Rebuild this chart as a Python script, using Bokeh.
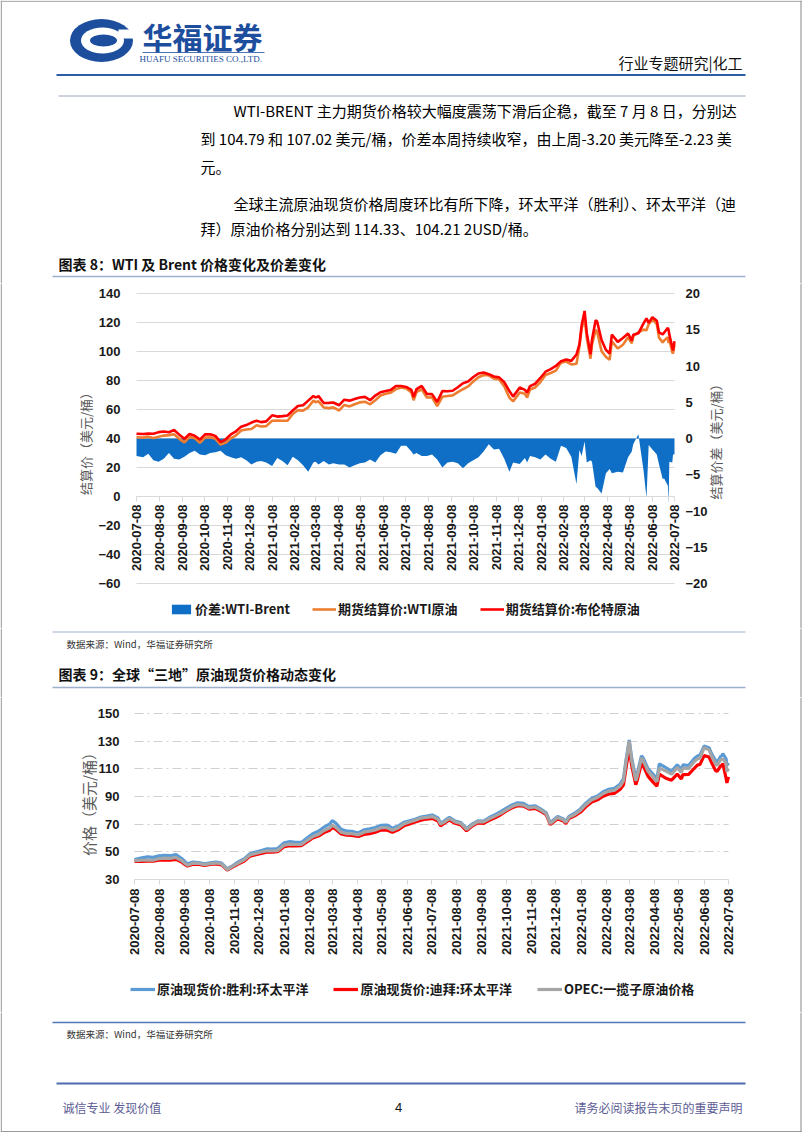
import math
import pandas as pd
from bokeh.plotting import figure
from bokeh.models import (Range1d, LinearAxis, FixedTicker, DatetimeTickFormatter, Grid,
                          Legend, LegendItem, Label, Span, ColumnDataSource)
from bokeh.layouts import column
from bokeh.core.properties import value
from bokeh.embed import file_html
from bokeh.resources import INLINE

# ---------------- data ----------------
DATES = [
    "2020-07-08", "2020-07-17", "2020-07-24", "2020-07-31", "2020-08-07", "2020-08-14", "2020-08-21", "2020-08-28", "2020-09-04", "2020-09-11",
    "2020-09-18", "2020-09-25", "2020-10-02", "2020-10-09", "2020-10-16", "2020-10-23", "2020-10-30", "2020-11-06", "2020-11-13", "2020-11-20",
    "2020-11-27", "2020-12-04", "2020-12-11", "2020-12-18", "2020-12-24", "2020-12-31", "2021-01-08", "2021-01-15", "2021-01-22", "2021-01-29",
    "2021-02-05", "2021-02-12", "2021-02-19", "2021-02-26", "2021-03-05", "2021-03-08", "2021-03-12", "2021-03-19", "2021-03-26", "2021-04-01",
    "2021-04-09", "2021-04-16", "2021-04-23", "2021-04-30", "2021-05-07", "2021-05-14", "2021-05-21", "2021-05-28", "2021-06-04", "2021-06-11",
    "2021-06-18", "2021-06-25", "2021-07-02", "2021-07-09", "2021-07-16", "2021-07-19", "2021-07-23", "2021-07-30", "2021-08-06", "2021-08-13",
    "2021-08-20", "2021-08-27", "2021-09-03", "2021-09-10", "2021-09-17", "2021-09-24", "2021-10-01", "2021-10-08", "2021-10-15", "2021-10-22",
    "2021-10-29", "2021-11-05", "2021-11-12", "2021-11-19", "2021-11-26", "2021-12-01", "2021-12-10", "2021-12-17", "2021-12-20", "2021-12-24",
    "2021-12-31", "2022-01-07", "2022-01-14", "2022-01-21", "2022-01-28", "2022-02-04", "2022-02-11", "2022-02-18", "2022-02-25", "2022-03-01",
    "2022-03-04", "2022-03-08", "2022-03-11", "2022-03-16", "2022-03-18", "2022-03-23", "2022-03-25", "2022-03-31", "2022-04-06", "2022-04-11",
    "2022-04-14", "2022-04-22", "2022-04-29", "2022-05-06", "2022-05-11", "2022-05-13", "2022-05-20", "2022-05-27", "2022-05-31", "2022-06-03",
    "2022-06-08", "2022-06-14", "2022-06-17", "2022-06-22", "2022-06-24", "2022-06-29", "2022-06-30", "2022-07-01", "2022-07-05", "2022-07-06",
    "2022-07-08",
]

BRENT = [
    43.29, 43.14, 43.34, 43.30, 44.40, 44.80, 44.35, 45.81, 42.66, 39.83,
    43.15, 41.92, 39.27, 42.85, 42.93, 41.77, 37.46, 39.45, 42.78, 44.96,
    48.18, 49.25, 50.97, 52.26, 51.29, 51.80, 55.99, 55.10, 55.41, 55.88,
    59.34, 62.43, 62.91, 66.13, 69.36, 68.24, 69.22, 64.53, 64.57, 64.86,
    62.95, 66.77, 66.11, 67.25, 68.28, 68.71, 66.44, 69.63, 71.89, 72.69,
    73.51, 76.18, 76.17, 75.55, 73.59, 68.62, 74.10, 76.33, 70.70, 70.59,
    65.18, 72.70, 72.61, 72.92, 75.34, 78.09, 79.28, 82.39, 84.86, 85.53,
    84.38, 82.74, 82.17, 78.89, 72.72, 68.87, 75.15, 73.52, 71.52, 76.14,
    77.78, 81.75, 86.06, 87.89, 90.03, 93.27, 94.44, 93.54, 97.93, 104.97,
    118.11, 127.98, 112.67, 98.02, 107.93, 121.60, 120.65, 107.91, 101.07, 98.48,
    111.70, 106.65, 109.34, 112.39, 107.51, 111.55, 112.55, 119.43, 122.84, 119.72,
    123.58, 121.17, 113.12, 111.74, 113.12, 116.26, 114.81, 111.63, 102.77, 100.69,
    107.02,
]

WTI = [
    40.90, 40.59, 41.29, 40.27, 41.22, 42.01, 42.34, 42.97, 39.77, 37.33,
    41.11, 40.25, 37.05, 40.60, 40.88, 39.85, 35.79, 37.14, 40.13, 42.15,
    45.53, 46.26, 46.57, 49.10, 48.23, 48.52, 52.24, 52.36, 52.27, 52.20,
    56.85, 59.47, 59.24, 61.50, 66.09, 65.05, 65.61, 61.42, 60.97, 61.45,
    59.32, 63.13, 62.14, 63.58, 64.90, 65.37, 63.58, 66.32, 69.62, 70.91,
    71.64, 74.05, 75.16, 74.56, 71.81, 66.42, 72.07, 73.95, 68.28, 68.44,
    62.32, 68.74, 69.29, 69.72, 71.97, 73.98, 75.88, 79.35, 82.28, 83.76,
    83.57, 81.27, 80.79, 76.10, 68.15, 65.57, 71.67, 70.86, 68.23, 73.79,
    75.21, 78.90, 83.82, 85.14, 86.82, 92.31, 93.10, 91.07, 91.59, 103.41,
    115.68, 123.70, 109.33, 95.04, 104.70, 114.93, 113.90, 100.28, 96.23, 94.29,
    106.95, 102.07, 104.69, 109.77, 105.71, 110.49, 113.23, 115.07, 114.67, 118.87,
    122.11, 118.93, 109.56, 106.19, 107.62, 109.78, 105.76, 108.43, 99.50, 98.53,
    104.79,
]

SPREAD = [
    -2.4, -2.6, -2.1, -3.0, -3.2, -2.8, -2.0, -2.8, -2.9, -2.5,
    -2.0, -1.7, -2.2, -2.3, -2.0, -1.9, -1.7, -2.3, -2.6, -2.8,
    -2.6, -3.0, -3.6, -3.2, -3.1, -3.3, -3.8, -2.7, -3.1, -3.7,
    -2.5, -3.0, -3.7, -4.6, -3.3, -3.2, -3.6, -3.1, -3.6, -3.4,
    -3.6, -3.6, -4.0, -3.7, -3.4, -3.3, -2.9, -3.3, -2.3, -1.8,
    -1.9, -2.1, -1.0, -1.0, -1.8, -2.2, -2.0, -2.4, -2.4, -2.2,
    -2.9, -4.0, -3.3, -3.2, -3.4, -4.1, -3.4, -3.0, -2.6, -1.8,
    -0.8, -1.5, -1.4, -2.8, -4.6, -3.3, -3.5, -2.7, -3.3, -2.4,
    -2.6, -2.9, -2.2, -2.8, -3.2, -1.0, -1.3, -2.5, -6.3, -1.6,
    -2.4, -0.4, -3.3, -3.0, -3.2, -6.7, -6.8, -7.6, -4.8, -4.2,
    -4.8, -4.6, -4.7, -2.6, -1.8, -0.8, 0.6, -4.4, -8.2, -0.9,
    -1.5, -2.2, -3.6, -5.6, -5.5, -6.5, -9.0, -3.2, -3.3, -2.2,
    -2.2,
]

SHENGLI = [
    44.5, 45.6, 46.3, 46.0, 47.1, 47.5, 47.2, 48.0, 45.2, 41.3,
    42.6, 42.2, 41.3, 42.0, 42.6, 41.8, 37.6, 40.1, 42.9, 45.0,
    48.6, 49.8, 51.0, 52.2, 51.9, 52.4, 56.6, 57.4, 56.9, 56.8,
    60.0, 63.1, 64.9, 67.9, 70.2, 72.5, 71.0, 66.3, 64.9, 64.8,
    63.6, 65.9, 66.7, 67.6, 69.2, 69.4, 67.1, 68.6, 71.3, 72.4,
    73.5, 75.2, 75.8, 76.6, 74.5, 70.8, 72.0, 74.9, 72.2, 71.2,
    66.8, 70.1, 72.4, 72.2, 74.8, 76.8, 79.0, 81.6, 83.9, 85.5,
    85.0, 82.7, 83.3, 81.1, 78.2, 71.0, 75.6, 73.8, 71.8, 75.6,
    77.9, 81.0, 85.4, 88.8, 90.4, 93.5, 95.2, 95.9, 99.1, 103.0,
    116.1, 130.8, 117.9, 103.2, 106.8, 119.4, 118.0, 110.2, 106.4, 102.6,
    113.6, 110.8, 108.2, 112.9, 109.5, 112.8, 112.4, 117.4, 119.3, 120.0,
    126.4, 125.3, 121.2, 116.0, 114.8, 119.6, 119.2, 121.0, 117.3, 112.5,
    114.33,
]

DUBAI = [
    43.0, 43.1, 43.3, 43.2, 43.9, 44.2, 44.0, 44.6, 42.6, 39.7,
    41.1, 40.9, 40.1, 40.9, 41.2, 40.6, 36.8, 39.1, 41.3, 43.4,
    46.9, 47.9, 48.9, 49.9, 49.8, 50.1, 53.8, 54.5, 54.3, 54.4,
    57.1, 60.0, 61.4, 63.9, 65.6, 67.5, 66.4, 62.9, 62.0, 61.9,
    61.1, 62.6, 63.2, 64.2, 65.7, 65.8, 64.1, 65.9, 68.8, 70.1,
    71.5, 72.9, 73.7, 74.2, 72.2, 68.8, 70.4, 73.0, 70.6, 69.4,
    65.2, 68.6, 70.9, 70.6, 72.8, 74.6, 76.8, 79.6, 81.8, 83.3,
    83.1, 80.9, 81.4, 79.4, 76.8, 69.7, 73.9, 72.3, 70.4, 74.0,
    76.0, 78.6, 82.7, 86.1, 87.6, 90.2, 91.8, 92.3, 95.3, 98.4,
    110.2, 125.0, 112.4, 98.6, 102.0, 113.8, 112.5, 104.7, 100.6, 97.4,
    106.2, 103.2, 101.8, 106.2, 102.7, 105.8, 106.0, 110.4, 112.8, 113.2,
    119.6, 118.5, 114.8, 108.8, 108.2, 112.6, 112.0, 113.9, 103.2, 99.8,
    104.21,
]

OPEC = [
    43.6, 43.9, 44.1, 43.9, 45.0, 45.4, 45.3, 45.9, 43.6, 40.2,
    41.9, 41.6, 40.8, 41.5, 41.9, 41.2, 37.2, 39.6, 42.1, 44.3,
    47.8, 48.8, 49.9, 50.8, 50.6, 50.9, 54.9, 55.6, 55.3, 55.4,
    58.2, 61.0, 62.6, 65.4, 67.3, 69.3, 67.9, 64.2, 63.2, 63.1,
    62.3, 64.2, 64.9, 65.8, 67.4, 67.5, 65.6, 67.3, 70.2, 71.5,
    72.8, 74.4, 74.9, 75.5, 73.6, 70.0, 71.3, 74.1, 71.6, 70.5,
    66.2, 69.4, 71.8, 71.6, 73.9, 75.8, 77.8, 80.4, 82.7, 84.2,
    83.8, 81.7, 82.4, 80.3, 77.6, 70.4, 74.8, 73.1, 71.2, 74.9,
    77.0, 80.0, 84.3, 87.6, 89.3, 92.2, 93.9, 94.5, 97.6, 101.5,
    114.7, 130.2, 116.1, 101.4, 104.9, 117.8, 116.2, 108.3, 104.5, 100.6,
    110.5, 108.5, 106.1, 110.9, 107.3, 110.6, 110.2, 115.3, 117.2, 117.8,
    125.2, 123.8, 119.4, 113.8, 112.5, 117.2, 116.6, 117.4, 113.9, 108.0,
    110.3,
]

TICK_DATES = [
    "2020-07-08", "2020-08-08", "2020-09-08", "2020-10-08", "2020-11-08", "2020-12-08",
    "2021-01-08", "2021-02-08", "2021-03-08", "2021-04-08", "2021-05-08", "2021-06-08",
    "2021-07-08", "2021-08-08", "2021-09-08", "2021-10-08", "2021-11-08", "2021-12-08",
    "2022-01-08", "2022-02-08", "2022-03-08", "2022-04-08", "2022-05-08", "2022-06-08",
    "2022-07-08",
]
LEFT_TICKS_1 = [-60, -40, -20, 0, 20, 40, 60, 80, 100, 120, 140]
RIGHT_TICKS_1 = [-20, -15, -10, -5, 0, 5, 10, 15, 20]
TICKS_2 = [30, 50, 70, 90, 110, 130, 150]
GRID_2 = [50, 70, 90, 110, 130, 150]

LEGEND_1 = ["价差:WTI-Brent", "期货结算价:WTI原油", "期货结算价:布伦特原油"]
LEGEND_2 = ["原油现货价:胜利:环太平洋", "原油现货价:迪拜:环太平洋", "OPEC:一揽子原油价格"]
YTITLE_1L = "结算价（美元/桶）"
YTITLE_1R = "结算价差（美元/桶）"
YTITLE_2 = "价格（美元/桶）"

# ---------------- styling / layout constants ----------------
CJK = "Noto Sans CJK SC"
NUM = "Liberation Sans"
W = 802
LOGO_BLUE = "#1D4E9E"
C_SPREAD = "#0F6FC6"
C_WTI = "#ED7D31"
C_BRENT = "#FF0000"
C_SHENGLI = "#5B9BD5"
C_DUBAI = "#FF0000"
C_OPEC = "#A5A5A5"
GRID = "#D9D9D9"
EDGE = "#9A9A9A"
HAS_CB = "cross_bounds" in Grid.properties()

dates = pd.to_datetime(DATES)
tick_ms = [pd.Timestamp(t).timestamp() * 1000 for t in TICK_DATES]
D0, D1 = tick_ms[0], tick_ms[-1]
fmt = "%Y-%m-%d"
date_fmt = DatetimeTickFormatter(microseconds=fmt, milliseconds=fmt, seconds=fmt, minsec=fmt,
                                 minutes=fmt, hourmin=fmt, hours=fmt, days=fmt, months=fmt, years=fmt)


def x_range_for(px_left, px_right):
    """Datetime range spanning the whole page width so that D0 lands at px_left and D1 at px_right."""
    per_px = (D1 - D0) / (px_right - px_left)
    return Range1d(D0 - px_left * per_px, D1 + (W - px_right) * per_px)


def y_range_for(v_top, px_top, v_bot, px_bot, fig_top, fig_bot):
    per_px = (v_top - v_bot) / (px_bot - px_top)
    return Range1d(v_bot - (fig_bot - px_bot) * per_px, v_top + (px_top - fig_top) * per_px)


def page_edges(p):
    for loc in (0.75, 800.5):
        p.add_layout(Span(location=loc, location_units="screen", dimension="height",
                          line_color=EDGE, line_width=1.2))


def base_fig(top, bottom, **kw):
    p = figure(frame_width=W, frame_height=bottom - top, toolbar_location=None, tools="",
               output_backend="svg", min_border=0, **kw)
    p.frame_align = False
    p.outline_line_color = None
    page_edges(p)
    return p


def page_fig(top, bottom):
    p = base_fig(top, bottom, x_range=Range1d(0, W), y_range=Range1d(bottom, top),
                 x_axis_location=None, y_axis_location=None)
    p.grid.visible = False
    return p


def txt(p, x, y, s, size, color="#000000", bold=False, align="left", font=CJK):
    p.text(x=[x], y=[y], text=[s], text_font=value(font), text_font_size=f"{size}px",
           text_color=color, text_align=align, text_baseline="middle",
           text_font_style="bold" if bold else "normal")


def hline(p, x0, x1, y, color, width=1.0):
    p.segment(x0=[x0], y0=[y], x1=[x1], y1=[y], line_color=color, line_width=width)


def style_num_axis(ax, ticks, loc, standoff):
    ax.ticker = FixedTicker(ticks=ticks)
    ax.fixed_location = loc
    ax.axis_line_color = None
    ax.major_tick_line_color = None
    ax.minor_tick_line_color = None
    ax.major_tick_out = 0
    ax.major_tick_in = 0
    ax.major_label_standoff = standoff
    ax.major_label_text_font = NUM
    ax.major_label_text_font_style = "bold"
    ax.major_label_text_font_size = "13px"
    ax.major_label_text_color = "#1a1a1a"


def style_date_axis(ax, loc, standoff):
    ax.ticker = FixedTicker(ticks=tick_ms)
    ax.formatter = date_fmt
    ax.fixed_location = loc
    ax.bounds = (D0, D1)
    ax.major_label_orientation = math.pi / 2
    ax.axis_line_color = GRID
    ax.major_tick_line_color = GRID
    ax.minor_tick_line_color = None
    ax.major_tick_in = 0
    ax.major_tick_out = 5
    ax.major_label_standoff = standoff
    ax.major_label_text_font = NUM
    ax.major_label_text_font_style = "bold"
    ax.major_label_text_font_size = "13px"
    ax.major_label_text_color = "#1a1a1a"


def style_ygrid(p, ticks, color, dash=None):
    if HAS_CB:
        p.ygrid.ticker = FixedTicker(ticks=ticks)
        p.ygrid.cross_bounds = (D0, D1)
        p.ygrid.grid_line_color = color
        if dash:
            p.ygrid.grid_line_dash = dash
    else:
        p.ygrid.visible = False
        n = len(ticks)
        p.segment(x0=[D0] * n, x1=[D1] * n, y0=ticks, y1=ticks, line_color=color,
                  line_dash=dash or "solid", level="underlay")
    p.xgrid.visible = False


def axis_title(p, x, y, text, size):
    p.add_layout(Label(x=x, y=y, x_units="screen", y_units="screen", text=text, angle=math.pi / 2,
                       text_align="center", text_baseline="middle", text_font=CJK,
                       text_font_size=f"{size}px", text_color="#595959"))


# ---------------- section 1: header & text (page y 0-283) ----------------
s1 = page_fig(0, 283)
hline(s1, 0, 802, 0.75, EDGE, 1.2)
s1.ellipse(x=[101], y=[40], width=[63], height=[43], fill_color=LOGO_BLUE, line_color=None)
s1.ellipse(x=[102], y=[40], width=[43], height=[26], fill_color="white", line_color=None)
s1.ellipse(x=[103], y=[40], width=[27], height=[12], fill_color=LOGO_BLUE, line_color=None)
s1.quad(left=[118], right=[134], top=[29], bottom=[38], fill_color="white", line_color=None)
txt(s1, 142, 35, "华福证券", 30, LOGO_BLUE, bold=True)
hline(s1, 142, 264, 52, LOGO_BLUE, 0.8)
txt(s1, 139, 58.5, "HUAFU SECURITIES CO.,LTD.", 9, LOGO_BLUE, font="Liberation Serif")
txt(s1, 742, 62, "行业专题研究|化工", 15, "#111111", align="right")
hline(s1, 56, 745, 74.5, "#2E5DA8", 2)
hline(s1, 58, 745, 95.5, "#9AA6BC", 1)

body = 15
txt(s1, 233, 110, "WTI-BRENT 主力期货价格较大幅度震荡下滑后企稳，截至 7 月 8 日，分别达", body)
txt(s1, 200, 138, "到 104.79 和 107.02 美元/桶，价差本周持续收窄，由上周-3.20 美元降至-2.23 美", body)
txt(s1, 200, 166, "元。", body)
txt(s1, 233, 203, "全球主流原油现货价格周度环比有所下降，环太平洋（胜利）、环太平洋（迪", body)
txt(s1, 200, 228, "拜）原油价格分别达到 114.33、104.21 2USD/桶。", body)
txt(s1, 58, 263, "图表 8：WTI 及 Brent 价格变化及价差变化", 14, "#111111", bold=True)
hline(s1, 52, 745, 276, "#9DB1CF", 1.5)

# ---------------- section 2: chart 1 (page y 283-628) ----------------
T1, B1 = 283, 628
src1 = ColumnDataSource(dict(date=dates, brent=BRENT, wti=WTI, spread=SPREAD))
p1 = base_fig(T1, B1, x_axis_type="datetime", x_range=x_range_for(136, 674),
              y_range=y_range_for(140, 293, -60, 583, T1, B1))
p1.extra_y_ranges = {"spread": y_range_for(20, 293, -20, 583, T1, B1)}

r_sp = p1.varea(x="date", y1=0, y2="spread", source=src1, y_range_name="spread", fill_color=C_SPREAD)
r_wti = p1.line("date", "wti", source=src1, line_color=C_WTI, line_width=2.6)
r_br = p1.line("date", "brent", source=src1, line_color=C_BRENT, line_width=2.6)

style_ygrid(p1, LEFT_TICKS_1, GRID)
style_num_axis(p1.yaxis[0], LEFT_TICKS_1, D0, 16)
ra = LinearAxis(y_range_name="spread")
style_num_axis(ra, RIGHT_TICKS_1, D1, 11)
p1.add_layout(ra, "right")
style_date_axis(p1.xaxis[0], 0, 3)

axis_title(p1, 85, B1 - 440, YTITLE_1L, 13)
axis_title(p1, 715, B1 - 438, YTITLE_1R, 13)

leg1 = Legend(items=[LegendItem(label=LEGEND_1[0], renderers=[r_sp]),
                     LegendItem(label=LEGEND_1[1], renderers=[r_wti]),
                     LegendItem(label=LEGEND_1[2], renderers=[r_br])],
              location=(169, B1 - 618), orientation="horizontal", padding=0, margin=0, spacing=22,
              label_standoff=2, glyph_width=24, glyph_height=12, label_height=14,
              border_line_color=None, background_fill_alpha=0,
              label_text_font=CJK, label_text_font_size="13px", label_text_font_style="bold",
              label_text_color="#1a1a1a")
p1.add_layout(leg1)

# ---------------- section 3: source 1 + title 2 (page y 628-697) ----------------
s3 = page_fig(628, 697)
hline(s3, 52, 745, 631.5, "#9DB1CF", 1.2)
txt(s3, 66, 643, "数据来源：Wind，华福证券研究所", 9.5, "#333333")
txt(s3, 58, 673, "图表 9：全球“三地”原油现货价格动态变化", 14, "#111111", bold=True)
hline(s3, 52, 745, 687, "#9DB1CF", 1.5)

# ---------------- section 4: chart 2 (page y 697-1012) ----------------
T2, B2 = 697, 1012
src2 = ColumnDataSource(dict(date=dates, shengli=SHENGLI, dubai=DUBAI, opec=OPEC))
p2 = base_fig(T2, B2, x_axis_type="datetime", x_range=x_range_for(134, 728),
              y_range=y_range_for(150, 713, 30, 879, T2, B2))
r_sl = p2.line("date", "shengli", source=src2, line_color=C_SHENGLI, line_width=3.2)
r_db = p2.line("date", "dubai", source=src2, line_color=C_DUBAI, line_width=3.2)
r_op = p2.line("date", "opec", source=src2, line_color=C_OPEC, line_width=3.2)

style_ygrid(p2, GRID_2, "#D0D0D0", "9 4 2 4")
style_num_axis(p2.yaxis[0], TICKS_2, D0, 15)
style_date_axis(p2.xaxis[0], 30, 4)

axis_title(p2, 88, B2 - 800, YTITLE_2, 15)

leg2 = Legend(items=[LegendItem(label=LEGEND_2[0], renderers=[r_sl]),
                     LegendItem(label=LEGEND_2[1], renderers=[r_db]),
                     LegendItem(label=LEGEND_2[2], renderers=[r_op])],
              location=(130, B2 - 998), orientation="horizontal", padding=0, margin=0, spacing=25,
              label_standoff=2, glyph_width=25, glyph_height=12, label_height=14,
              border_line_color=None, background_fill_alpha=0,
              label_text_font=CJK, label_text_font_size="13px", label_text_font_style="bold",
              label_text_color="#1a1a1a")
p2.add_layout(leg2)

# ---------------- section 5: source 2 + footer (page y 1012-1132) ----------------
s5 = page_fig(1012, 1132)
hline(s5, 52, 745, 1022, "#4F78B8", 1.5)
txt(s5, 66, 1033, "数据来源：Wind，华福证券研究所", 9.5, "#333333")
hline(s5, 56, 745, 1083, "#4C6CAE", 2)
txt(s5, 62, 1107, "诚信专业  发现价值", 12, "#5C5C94")
txt(s5, 398, 1107, "4", 13, "#111111", align="center", font="Liberation Sans")
txt(s5, 742, 1107, "请务必阅读报告末页的重要声明", 12, "#5C5C94", align="right")
hline(s5, 0, 802, 1131, EDGE, 1.2)

page = column(s1, p1, s3, p2, s5, spacing=0)
open("out.html", "w").write(file_html(page, INLINE))
